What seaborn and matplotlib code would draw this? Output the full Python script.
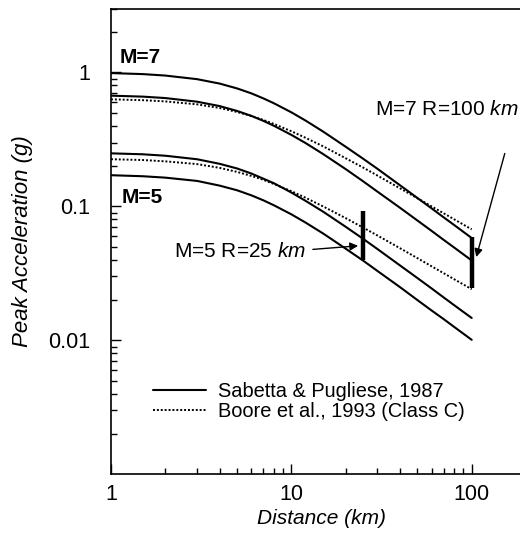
import matplotlib
matplotlib.use("Agg")
import matplotlib.pyplot as plt
import matplotlib.ticker as mticker
import numpy as np
import pandas as pd
import seaborn as sns

distance = [1, 1.5, 2, 3, 4, 5, 6, 7, 8, 10, 12, 15, 20, 25, 30, 40, 50, 60, 70, 80, 100]

# Sabetta & Pugliese, 1987 (solid)
sp_m7_upper = [0.989, 0.972, 0.948, 0.891, 0.826, 0.760, 0.698, 0.640, 0.589, 0.504, 0.437,
               0.362, 0.279, 0.227, 0.191, 0.144, 0.1156, 0.0966, 0.0828, 0.0726, 0.0581]
sp_m7_mean = [0.671, 0.660, 0.644, 0.605, 0.561, 0.516, 0.474, 0.435, 0.400, 0.342, 0.297,
              0.246, 0.190, 0.154, 0.129, 0.0978, 0.0785, 0.0656, 0.0562, 0.0493, 0.0395]
sp_m5_upper = [0.249, 0.245, 0.239, 0.225, 0.208, 0.192, 0.176, 0.161, 0.149, 0.127, 0.110,
               0.0914, 0.0705, 0.0573, 0.0481, 0.0363, 0.0292, 0.0244, 0.0209, 0.0183, 0.0147]
sp_m5_mean = [0.171, 0.168, 0.164, 0.155, 0.143, 0.132, 0.121, 0.111, 0.102, 0.0873, 0.0757,
              0.0628, 0.0484, 0.0394, 0.0330, 0.0250, 0.0200, 0.0167, 0.0144, 0.0126, 0.0101]

# Boore et al., 1993 (Class C) (dotted)
bo_m7 = [0.630, 0.621, 0.608, 0.578, 0.543, 0.507, 0.473, 0.442, 0.413, 0.364, 0.325,
         0.281, 0.229, 0.195, 0.170, 0.1366, 0.115, 0.100, 0.0888, 0.0801, 0.0674]
bo_m5 = [0.225, 0.222, 0.217, 0.207, 0.194, 0.181, 0.169, 0.158, 0.147, 0.130, 0.116,
         0.100, 0.0818, 0.0695, 0.0607, 0.0488, 0.0411, 0.0357, 0.0317, 0.0286, 0.0241]

# range bars
bar_dist = [25, 100]
bar_low = [0.040, 0.0245]
bar_high = [0.093, 0.059]

sns.set_theme(style="ticks")
plt.rcParams["font.family"] = ["Liberation Sans", "DejaVu Sans"]
plt.rcParams["mathtext.fontset"] = "custom"
plt.rcParams["mathtext.rm"] = "Liberation Sans"
plt.rcParams["mathtext.it"] = "Liberation Sans:italic"
plt.rcParams["text.color"] = "black"
plt.rcParams["axes.labelcolor"] = "black"

fig = plt.figure(figsize=(5.2, 5.33), dpi=100)
ax = fig.add_axes([0.2135, 0.110, 0.798, 0.874])

solid = {"label": "Sabetta & Pugliese, 1987", "ls": "-", "lw": 1.5}
dotted = {"label": "Boore et al., 1993 (Class C)", "ls": (0, (1, 1)), "lw": 1.4}

curves = [
    (sp_m7_upper, solid, True),
    (sp_m7_mean, solid, False),
    (sp_m5_upper, solid, False),
    (sp_m5_mean, solid, False),
    (bo_m7, dotted, True),
    (bo_m5, dotted, False),
]
for values, st, show in curves:
    df = pd.DataFrame({"distance": distance, "pga": values})
    sns.lineplot(data=df, x="distance", y="pga", ax=ax, color="black",
                 linestyle=st["ls"], linewidth=st["lw"],
                 label=st["label"] if show else None)

for d, lo, hi in zip(bar_dist, bar_low, bar_high):
    ax.plot([d, d], [lo, hi], color="black", lw=3.2, solid_capstyle="butt")

ax.set_xscale("log")
ax.set_yscale("log")
ax.set_xlim(1, 200)
ax.set_ylim(0.001, 3)

ax.xaxis.set_major_locator(mticker.FixedLocator([1, 10, 100]))
ax.xaxis.set_major_formatter(mticker.FixedFormatter(["1", "10", "100"]))
ax.xaxis.set_minor_locator(mticker.LogLocator(base=10, subs=np.arange(2, 10)))
ax.xaxis.set_minor_formatter(mticker.NullFormatter())
ax.yaxis.set_major_locator(mticker.FixedLocator([0.01, 0.1, 1]))
ax.yaxis.set_major_formatter(mticker.FixedFormatter(["0.01", "0.1", "1"]))
ax.yaxis.set_minor_locator(mticker.LogLocator(base=10, subs=np.arange(2, 10)))
ax.yaxis.set_minor_formatter(mticker.NullFormatter())

ax.tick_params(which="both", direction="in", colors="black", labelsize=15.5, width=1)
ax.tick_params(which="major", length=7)
ax.tick_params(which="minor", length=4)
ax.tick_params(axis="x", which="major", pad=7)
ax.tick_params(axis="y", which="major", pad=15)
for side in ["left", "bottom", "top"]:
    ax.spines[side].set_color("black")
    ax.spines[side].set_linewidth(1.2)
ax.spines["right"].set_visible(False)

ax.set_xlabel("Distance (km)", fontsize=15, style="italic", labelpad=6)
ax.xaxis.set_label_coords(0.508, -0.075)
ax.set_ylabel("Peak Acceleration (g)", fontsize=16, style="italic", labelpad=11)

ax.text(1.12, 1.29, "M=7", fontsize=15, fontweight="bold", va="center", ha="left")
ax.text(1.15, 0.116, "M=5", fontsize=15, fontweight="bold", va="center", ha="left")

ax.text(73, 0.53, r"M=7 R=100 $\it{km}$", fontsize=15, ha="center", va="center")
ax.annotate("", xy=(105, 0.040), xytext=(154, 0.26),
            arrowprops=dict(arrowstyle="-|>", color="black", lw=1, mutation_scale=12))
ax.text(5.2, 0.046, r"M=5 R=25 $\it{km}$", fontsize=15, ha="center", va="center")
ax.annotate("", xy=(24.3, 0.051), xytext=(12.7, 0.0476),
            arrowprops=dict(arrowstyle="-|>", color="black", lw=1, mutation_scale=12))

leg = ax.legend(loc="upper left", bbox_to_anchor=(0.10, 0.198), frameon=False,
                fontsize=14.4, handlelength=2.65, handletextpad=0.6,
                labelspacing=0.02, borderaxespad=0, borderpad=0)
for line in leg.get_lines():
    line.set_color("black")

fig.savefig("out.png", dpi=100)
